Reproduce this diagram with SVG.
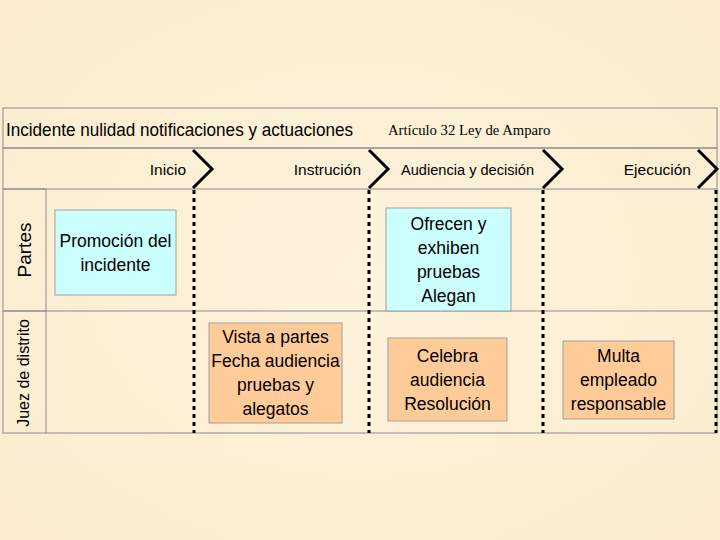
<svg xmlns="http://www.w3.org/2000/svg" width="720" height="540" viewBox="0 0 720 540">
<defs>
<style>
.t{font-family:"Liberation Sans",Arial,sans-serif;fill:#000}
.n{font-size:17.5px;text-anchor:middle}
.ph{font-size:15.5px;text-anchor:end}
.box{stroke:#a0a0a0;stroke-width:1}
.cy{fill:#ccffff}
.or{fill:#ffcc99}
.dash{stroke:#000;stroke-width:3;stroke-dasharray:4,4;fill:none}
.chev{stroke:#000;stroke-width:3;fill:none}
.grid{stroke:#8c8c8c;stroke-width:1;fill:none}
</style>
<radialGradient id="bg" cx="50%" cy="50%" r="70%">
<stop offset="0" stop-color="#fdf3dc"/>
<stop offset="1" stop-color="#fbecce"/>
</radialGradient>
</defs>
<rect width="720" height="540" fill="url(#bg)"/>
<g id="pool">
<rect x="3" y="108" width="714" height="40" fill="#e6e6e6" class="grid"/>
<rect x="3" y="148" width="714" height="41" fill="#ececec" class="grid"/>
<text class="t" x="6" y="136" font-size="19" textLength="347" lengthAdjust="spacingAndGlyphs">Incidente nulidad notificaciones y actuaciones</text>
<text x="388" y="135" font-family="'Liberation Serif','Times New Roman',serif" font-size="14.7">Artículo 32 Ley de Amparo</text>
</g>
<g id="lane-partes">
<rect x="3" y="189" width="43" height="122" class="cy grid"/>
<text class="t" font-size="19" text-anchor="middle" transform="translate(31,250) rotate(-90)">Partes</text>
</g>
<g id="lane-juez">
<rect x="3" y="311" width="43" height="122" class="or grid"/>
<text class="t" font-size="16" text-anchor="middle" transform="translate(29,373) rotate(-90)">Juez de distrito</text>
</g>
<g id="lanes">
<line x1="46" y1="311" x2="717" y2="311" class="grid"/>
<line x1="46" y1="433" x2="717" y2="433" class="grid"/>
<line x1="717" y1="189" x2="717" y2="433" class="grid"/>
</g>
<g id="phases">
<text class="t ph" x="186" y="175">Inicio</text>
<text class="t ph" x="361" y="175">Instrución</text>
<text class="t ph" x="534" y="175" textLength="133" lengthAdjust="spacingAndGlyphs">Audiencia y decisión</text>
<text class="t ph" x="691" y="175">Ejecución</text>
</g>
<g id="connectors">
<polyline class="chev" points="193,150 212,169 193,188"/>
<polyline class="chev" points="369,150 388,169 369,188"/>
<polyline class="chev" points="543,150 562,169 543,188"/>
<polyline class="chev" points="698,150 717,169 698,188"/>
<line class="dash" x1="194" y1="190" x2="194" y2="433"/>
<line class="dash" x1="369" y1="190" x2="369" y2="433"/>
<line class="dash" x1="543" y1="190" x2="543" y2="433"/>
<line class="dash" x1="716" y1="190" x2="716" y2="433"/>
</g>
<g id="node-promocion">
<rect x="55" y="210" width="121" height="85" class="box cy"/>
<text class="t n" x="115.5" y="247">Promoción del</text>
<text class="t n" x="115.5" y="271">incidente</text>
</g>
<g id="node-ofrecen">
<rect x="386" y="208" width="125" height="103" class="box cy"/>
<text class="t n" x="448.5" y="230">Ofrecen y</text>
<text class="t n" x="448.5" y="254">exhiben</text>
<text class="t n" x="448.5" y="278">pruebas</text>
<text class="t n" x="448.5" y="302">Alegan</text>
</g>
<g id="node-vista">
<rect x="209" y="323" width="133" height="100" class="box or"/>
<text class="t n" x="275.5" y="343">Vista a partes</text>
<text class="t n" x="275.5" y="367">Fecha audiencia</text>
<text class="t n" x="275.5" y="391">pruebas y</text>
<text class="t n" x="275.5" y="415">alegatos</text>
</g>
<g id="node-celebra">
<rect x="388" y="338" width="119" height="83" class="box or"/>
<text class="t n" x="447.5" y="362">Celebra</text>
<text class="t n" x="447.5" y="386">audiencia</text>
<text class="t n" x="447.5" y="410">Resolución</text>
</g>
<g id="node-multa">
<rect x="563" y="341" width="111" height="78" class="box or"/>
<text class="t n" x="618.5" y="362">Multa</text>
<text class="t n" x="618.5" y="386">empleado</text>
<text class="t n" x="618.5" y="410">responsable</text>
</g>
</svg>
